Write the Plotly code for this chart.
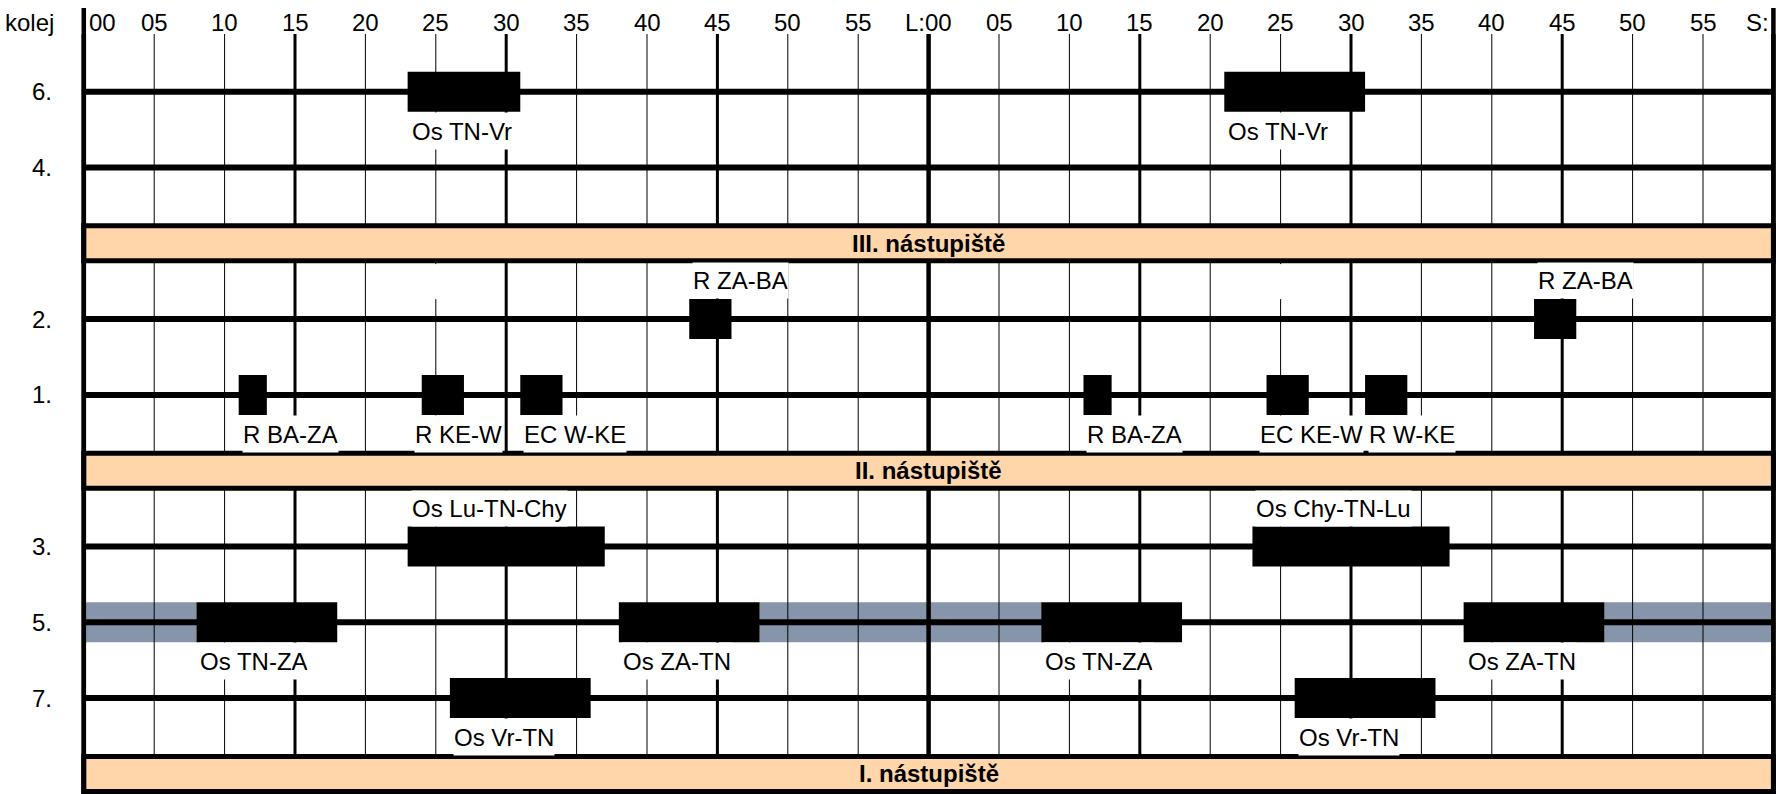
import plotly.graph_objects as go

# ---------------- data ----------------
row_order = ["6.", "4.", "III. nástupiště", "2.", "1.", "II. nástupiště",
             "3.", "5.", "7.", "I. nástupiště"]
platforms = ["III. nástupiště", "II. nástupiště", "I. nástupiště"]
tracks = ["6.", "4.", "2.", "1.", "3.", "5.", "7."]

train_track = ["6.", "6.", "2.", "2.", "1.", "1.", "1.", "1.", "1.", "1.",
               "3.", "3.", "5.", "5.", "5.", "5.", "7.", "7."]
train_start = [23, 81, 43, 103, 11, 24, 31, 71, 84, 91,
               23, 83, 8, 38, 68, 98, 26, 86]
train_end = [31, 91, 46, 106, 13, 27, 34, 73, 87, 94,
             37, 97, 18, 48, 78, 108, 36, 96]
train_name = ["Os TN-Vr", "Os TN-Vr", "R ZA-BA", "R ZA-BA", "R BA-ZA", "R KE-W",
              "EC W-KE", "R BA-ZA", "EC KE-W", "R W-KE",
              "Os Lu-TN-Chy", "Os Chy-TN-Lu", "Os TN-ZA", "Os ZA-TN",
              "Os TN-ZA", "Os ZA-TN", "Os Vr-TN", "Os Vr-TN"]
label_side = ["below", "below", "above", "above", "below", "below",
              "below", "below", "below", "below",
              "above", "above", "below", "below", "below", "below",
              "below", "below"]
# label start relative to train start (minutes)
label_offset_min = [0, 0, 0, 0, 0, -0.76, 0, 0, -0.76, 0,
                    0, 0, 0, 0, 0, 0, 0, 0]

standing_track = ["5.", "5.", "5."]
standing_start = [0, 48, 108]
standing_end = [8, 68, 120]

blank_label_track = ["2.", "2."]
blank_label_minute = [25, 85]

tick_minutes = list(range(0, 121, 5))
tick_text = ["00", "05", "10", "15", "20", "25", "30", "35", "40", "45", "50", "55",
             "L:00", "05", "10", "15", "20", "25", "30", "35", "40", "45", "50", "55",
             "S:"]

# ---------------- geometry / style ----------------
W, H = 1776, 794
X0_PX, PX_PER_MIN = 83.8, 14.08
Y0_PX, PX_PER_SLOT = 91.7, 75.8
FONT = "Liberation Sans, Arial, Helvetica, sans-serif"
PEACH = "#FFD6AA"
BLUE = "#8795AA"


def slot(name):
    return row_order.index(name)


def py(px):
    """pixel row -> y axis units"""
    return (px - Y0_PX) / PX_PER_SLOT


HALF_BOX = 20 / PX_PER_SLOT
HALF_BAND = 17.5 / PX_PER_SLOT
GRID_TOP = py(34)
BORDER_TOP = py(8)
BOTTOM = py(H)

fig = go.Figure()

shapes = []
# standing (blue) segments - lowest layer
for tr, s, e in zip(standing_track, standing_start, standing_end):
    y = slot(tr)
    shapes.append(dict(type="rect", xref="x", yref="y", x0=s, x1=e,
                       y0=y - HALF_BOX, y1=y + HALF_BOX, fillcolor=BLUE,
                       line=dict(width=0), layer="below"))
# vertical grid lines
for m in tick_minutes:
    if m % 60 == 0:
        w = 4.5
    elif m % 15 == 0:
        w = 3
    else:
        w = 1
    shapes.append(dict(type="line", xref="x", yref="y", x0=m, x1=m,
                       y0=GRID_TOP, y1=BOTTOM, line=dict(color="black", width=w),
                       layer="below"))
# track lines
for tr in tracks:
    y = slot(tr)
    shapes.append(dict(type="line", xref="x", yref="y", x0=0, x1=120, y0=y, y1=y,
                       line=dict(color="black", width=6), layer="below"))

# trains as horizontal bars
fig.add_trace(go.Bar(
    orientation="h",
    y=[slot(t) for t in train_track],
    x=[e - s for s, e in zip(train_start, train_end)],
    base=train_start,
    width=2 * HALF_BOX,
    marker=dict(color="black", line=dict(width=0)),
    hoverinfo="skip",
    showlegend=False,
))

# blank label masks
for tr, m in zip(blank_label_track, blank_label_minute):
    y = slot(tr)
    shapes.append(dict(type="rect", xref="x", yref="y", x0=m - 0.4, x1=m + 0.4,
                       y0=y - HALF_BOX - 35 / PX_PER_SLOT, y1=y - HALF_BOX,
                       fillcolor="white", line=dict(width=0), layer="above"))

# platforms
for p in platforms:
    y = slot(p)
    shapes.append(dict(type="rect", xref="x", yref="y", x0=0, x1=120,
                       y0=y - HALF_BAND, y1=y + HALF_BAND, fillcolor=PEACH,
                       line=dict(color="black", width=5), layer="above"))
# outer borders
for m in (0, 120):
    shapes.append(dict(type="line", xref="x", yref="y", x0=m, x1=m,
                       y0=BORDER_TOP, y1=BOTTOM, line=dict(color="black", width=4.5),
                       layer="above"))

ann = []
# train labels
for tr, s, name, side, off in zip(train_track, train_start, train_name,
                                  label_side, label_offset_min):
    y = slot(tr)
    common = dict(x=s + off, xref="x", yref="y", text=name, xanchor="left", xshift=3,
                  valign="middle", bgcolor="white", borderpad=0, showarrow=False,
                  font=dict(family=FONT, size=24, color="black"))
    if side == "below":
        ann.append(dict(y=y + HALF_BOX, yanchor="top", height=36, **common))
    else:
        ann.append(dict(y=y - HALF_BOX, yanchor="bottom", height=35, **common))
# platform labels
for p in platforms:
    ann.append(dict(x=60, y=slot(p), xref="x", yref="y", text="<b>" + p + "</b>",
                    xanchor="center", yanchor="middle", showarrow=False,
                    font=dict(family=FONT, size=24, color="black")))
# track labels
for tr in tracks:
    ann.append(dict(x=54 / W, y=slot(tr), xref="paper", yref="y", text=tr,
                    xanchor="right", yanchor="middle", showarrow=False,
                    font=dict(family=FONT, size=24, color="black")))
# header
ann.append(dict(x=3 / W, y=py(22), xref="paper", yref="y", text="kolej",
                xanchor="left", yanchor="middle", showarrow=False,
                font=dict(family=FONT, size=24, color="black")))
for m, t in zip(tick_minutes, tick_text):
    if m == 0:
        anchor, shift = "left", 3
    elif m == 120:
        anchor, shift = "right", -2
    else:
        anchor, shift = "center", 0
    ann.append(dict(x=m, y=py(22), xref="x", yref="y", text=t,
                    xanchor=anchor, xshift=shift,
                    yanchor="middle", showarrow=False,
                    font=dict(family=FONT, size=24, color="black")))

fig.update_layout(
    width=W, height=H, margin=dict(l=0, r=0, t=0, b=0),
    paper_bgcolor="white", plot_bgcolor="white",
    xaxis=dict(visible=False, range=[-X0_PX / PX_PER_MIN, (W - X0_PX) / PX_PER_MIN]),
    yaxis=dict(visible=False, range=[py(H), py(0)]),
    barmode="overlay", showlegend=False,
    shapes=shapes, annotations=ann,
)

fig.write_html("out.html", config={"displayModeBar": False},
               post_script="document.body.style.margin='0';")
